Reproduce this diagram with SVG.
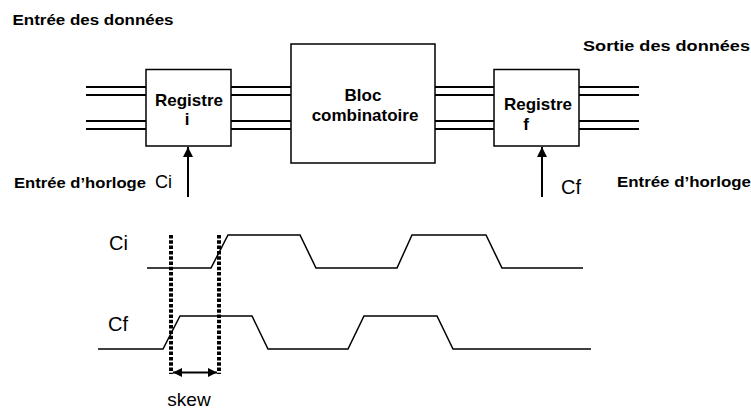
<svg xmlns="http://www.w3.org/2000/svg" width="751" height="412" viewBox="0 0 751 412">
<style>
.box{fill:#fff;stroke:#000;stroke-width:1.5}
.bus{stroke:#000;stroke-width:2;fill:none}
.wave{stroke:#000;stroke-width:1.5;fill:none}
.b{font-family:"Liberation Sans",Arial,sans-serif;font-weight:bold;fill:#000}
.r{font-family:"Liberation Sans",Arial,sans-serif;fill:#000}
.clk{stroke:#000;stroke-width:2;fill:none}
.dash{stroke:#000;stroke-width:4;stroke-dasharray:3.5 1.8;fill:none}
</style>
<defs>
<marker id="ah" viewBox="0 0 10 10" refX="10" refY="5" markerWidth="10" markerHeight="10" markerUnits="userSpaceOnUse" orient="auto">
<path d="M0,0 L10,5 L0,10 z" fill="#000"/>
</marker>
<marker id="ah2" viewBox="0 0 10 10" refX="10" refY="5" markerWidth="10" markerHeight="9" markerUnits="userSpaceOnUse" orient="auto-start-reverse">
<path d="M0,0 L10,5 L0,10 z" fill="#000"/>
</marker>
</defs>
<g id="connectors">
<path class="bus" d="M86,87H146M86,95H146M86,121H146M86,129H146"/>
<path class="bus" d="M231,87H291M231,95H291M231,121H291M231,129H291"/>
<path class="bus" d="M435,87H494M435,95H494M435,121H494M435,129H494"/>
<path class="bus" d="M579,87H639M579,95H639M579,121H639M579,129H639"/>
<line class="clk" x1="188" y1="197" x2="188" y2="147" marker-end="url(#ah)"/>
<line class="clk" x1="542" y1="197" x2="542" y2="147" marker-end="url(#ah)"/>
</g>
<g id="registre-i">
<rect class="box" x="146" y="69.5" width="85" height="76.5"/>
<text class="b" x="189" y="106" font-size="17" text-anchor="middle">Registre</text>
<text class="b" x="187" y="125" font-size="17" text-anchor="middle">i</text>
</g>
<g id="bloc">
<rect class="box" x="291" y="44" width="144" height="119"/>
<text class="b" x="363" y="101" font-size="17" text-anchor="middle">Bloc</text>
<text class="b" x="365" y="121" font-size="17" text-anchor="middle">combinatoire</text>
</g>
<g id="registre-f">
<rect class="box" x="494" y="69.5" width="85" height="76.5"/>
<text class="b" x="538" y="110" font-size="17" text-anchor="middle">Registre</text>
<text class="b" x="526" y="130" font-size="17" text-anchor="middle">f</text>
</g>
<g id="labels">
<text class="b" x="12.5" y="25" font-size="15" textLength="161" lengthAdjust="spacingAndGlyphs">Entrée des données</text>
<text class="b" x="583" y="51" font-size="15" textLength="167" lengthAdjust="spacingAndGlyphs">Sortie des données</text>
<text class="b" x="14" y="188" font-size="15" textLength="132" lengthAdjust="spacingAndGlyphs">Entrée d’horloge</text>
<text class="r" x="155" y="188" font-size="18">Ci</text>
<text class="r" x="561" y="194" font-size="20">Cf</text>
<text class="b" x="617" y="187" font-size="15" textLength="134" lengthAdjust="spacingAndGlyphs">Entrée d’horloge</text>
</g>
<g id="timing">
<text class="r" x="109" y="250" font-size="20">Ci</text>
<text class="r" x="108" y="331" font-size="20">Cf</text>
<path class="wave" d="M147,268 L211,268 L228,235 L300,235 L316,268 L397,268 L412,235 L486,235 L502,268 L583,268"/>
<path class="wave" d="M98,349 L163,349 L180,316 L252,316 L268,349 L348,349 L364,316 L437,316 L453,349 L591,349"/>
<line class="dash" x1="171" y1="235" x2="171" y2="374"/>
<line class="dash" x1="219" y1="235" x2="219" y2="374"/>
<line x1="173" y1="372.5" x2="217" y2="372.5" stroke="#000" stroke-width="2" marker-start="url(#ah2)" marker-end="url(#ah2)"/>
<text class="r" x="189" y="406" font-size="19" text-anchor="middle">skew</text>
</g>
</svg>
